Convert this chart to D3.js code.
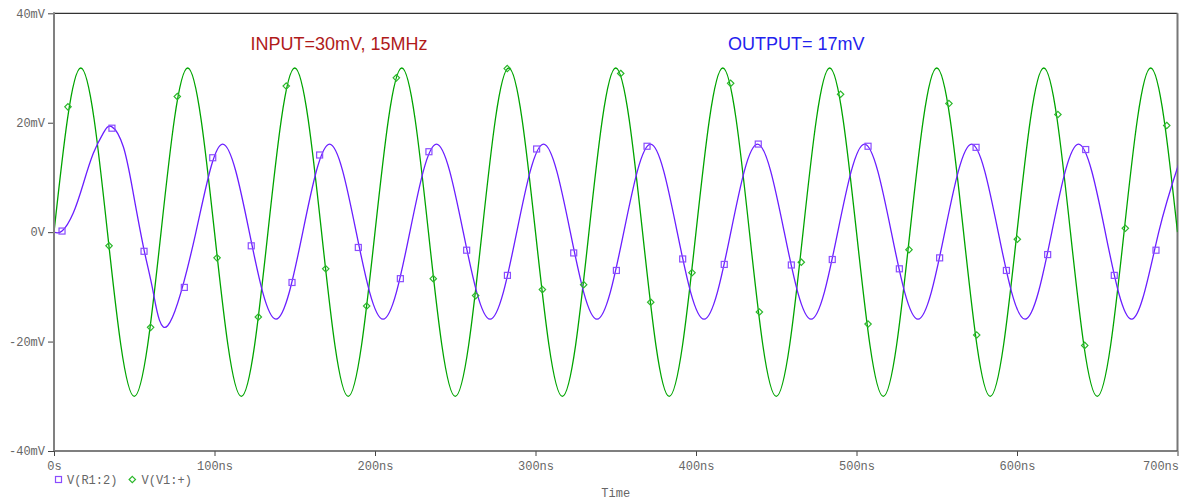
<!DOCTYPE html>
<html>
<head>
<meta charset="utf-8">
<script src="https://cdn.jsdelivr.net/npm/d3@7/dist/d3.min.js"></script>
<style>
  html, body { margin: 0; padding: 0; background: #fff; }
  svg { display: block; }
</style>
</head>
<body>
<svg id="chart" width="1184" height="502"></svg>
<script>
// ---- data (time in ns, voltage in mV) ----
const yTicks = [-40, -20, 0, 20, 40];
const xTicks = [0, 100, 200, 300, 400, 500, 600, 700];
const seriesNames = ["V(R1:2)", "V(V1:+)"];
const titleInput = "INPUT=30mV, 15MHz";
const titleOutput = "OUTPUT= 17mV";

// Input V(V1:+): peaks / zero crossings
const inputTime = [0, 16.7, 33.3, 50, 66.7, 83.3, 100, 116.7, 133.3, 150, 166.7, 183.3, 200, 216.7, 233.3, 250, 266.7, 283.3, 300, 316.7, 333.3, 350, 366.7, 383.3, 400, 416.7, 433.3, 450, 466.7, 483.3, 500, 516.7, 533.3, 550, 566.7, 583.3, 600, 616.7, 633.3, 650, 666.7, 683.3, 700];
const inputValue = [0, 30, 0, -30, 0, 30, 0, -30, 0, 30, 0, -30, 0, 30, 0, -30, 0, 30, 0, -30, 0, 30, 0, -30, 0, 30, 0, -30, 0, 30, 0, -30, 0, 30, 0, -30, 0, 30, 0, -30, 0, 30, 0];

// Output V(R1:2): start-up transient then steady oscillation
const outputTime = [0, 5, 12, 18.3, 24.5, 30.7, 35.9, 43.2, 49.4, 56.3, 61.9, 70.8, 88.2, 105, 121.7, 138.3, 155, 171.7, 188.3, 205, 221.7, 238.3, 255, 271.7, 288.3, 305, 321.7, 338.3, 355, 371.7, 388.3, 405, 421.7, 438.3, 455, 471.7, 488.3, 505, 521.7, 538.3, 555, 571.7, 588.3, 605, 621.7, 638.3, 655, 671.7, 688.3, 705];
const outputValue = [0, 0.2, 3.5, 8.9, 14.4, 18.1, 19.3, 15.6, 7.1, -3.5, -11.1, -17.1, -0.3, 16.1, 0, -15.9, 0, 16.1, 0, -15.9, 0, 16.1, 0, -15.9, 0, 16.1, 0, -15.9, 0, 16.1, 0, -15.9, 0, 16.1, 0, -15.9, 0, 16.1, 0, -15.9, 0, 16.1, 0, -15.9, 0, 16.1, 0, -15.9, 0, 16.1];

// Marker positions (square markers on output, diamonds on input)
const outMarkTime = [5, 36.1, 56.1, 81.2, 98.9, 122.9, 148.3, 165.5, 189.6, 215.8, 233.6, 257.1, 282.5, 300.7, 323.8, 350.4, 369.5, 391.7, 417.6, 438.8, 459.4, 484.9, 507.2, 526.7, 551.8, 574.5, 593.4, 619.1, 642.8, 660.6, 686.6];
const outMarkValue = [0.2, 19.0, -3.5, -10.1, 13.6, -2.5, -9.2, 14.1, -2.8, -8.5, 14.7, -3.3, -7.9, 15.2, -3.8, -7.0, 15.7, -4.9, -5.9, 16.1, -6.0, -5.0, 15.7, -6.7, -4.7, 15.5, -7.0, -4.1, 15.1, -7.9, -3.3];
const inMarkTime = [8.7, 34.3, 60.2, 76.8, 101.6, 127.3, 144.7, 169.3, 194.8, 213.3, 236.3, 262.7, 282.4, 304.3, 330, 353.1, 371.8, 397.5, 421.6, 439.5, 465.6, 490.1, 507.2, 532.7, 557.6, 574.9, 600.2, 625.5, 642.2, 667.5, 693.3];
const inMarkValue = [22.9, -2.5, -17.4, 24.8, -4.7, -15.5, 26.7, -6.7, -13.5, 28.2, -8.5, -11.6, 29.9, -10.5, -9.6, 29.0, -12.8, -7.4, 27.2, -14.6, -5.5, 25.2, -16.8, -3.2, 23.5, -18.8, -1.3, 21.5, -20.7, 0.7, 19.5];

// ---- layout ----
const svg = d3.select("#chart");
const pL = 54, pR = 1177.5, pT = 13.3, pB = 451;
const x = d3.scaleLinear().domain([0, 700]).range([pL, pR]);
const y = d3.scaleLinear().domain([-40, 40]).range([pB, pT]);

const colGreen = "#00a400";
const colPurple = "#6a1eff";
const colGreenMark = "#2bb82b";
const colPurpleMark = "#8a4cff";
const monoFont = "'Liberation Mono', 'DejaVu Sans Mono', monospace";

svg.append("defs").append("clipPath").attr("id", "clip")
  .append("rect").attr("x", pL).attr("y", pT).attr("width", pR - pL).attr("height", pB - pT);

// frame
svg.append("line").attr("x1", pL).attr("x2", pR).attr("y1", pT).attr("y2", pT)
  .attr("stroke", "#333").attr("stroke-width", 1.2);
svg.append("line").attr("x1", pR).attr("x2", pR).attr("y1", pT).attr("y2", pB)
  .attr("stroke", "#777").attr("stroke-width", 2);

// curves
const line = d3.line().x(d => x(d[0])).y(d => y(d[1])).curve(d3.curveNatural);
const inputData = inputTime.map((t, i) => [t, inputValue[i]]);
const outputData = outputTime.map((t, i) => [t, outputValue[i]]);

const plot = svg.append("g").attr("clip-path", "url(#clip)");
plot.append("path").datum(inputData).attr("d", line)
  .attr("fill", "none").attr("stroke", colGreen).attr("stroke-width", 1.3);
plot.append("path").datum(outputData).attr("d", line)
  .attr("fill", "none").attr("stroke", colPurple).attr("stroke-width", 1.3);

// markers
const sq = 6;
plot.selectAll(".sqm").data(outMarkTime.map((t, i) => [t, outMarkValue[i]])).enter()
  .append("rect")
  .attr("x", d => x(d[0]) - sq / 2).attr("y", d => y(d[1]) - sq / 2)
  .attr("width", sq).attr("height", sq)
  .attr("fill", "none").attr("stroke", colPurpleMark).attr("stroke-width", 1.2);
const dm = 3.2;
const diamond = (cx, cy) => `M${cx},${cy - dm}L${cx + dm},${cy}L${cx},${cy + dm}L${cx - dm},${cy}Z`;
plot.selectAll(".dmm").data(inMarkTime.map((t, i) => [t, inMarkValue[i]])).enter()
  .append("path")
  .attr("d", d => diamond(x(d[0]), y(d[1])))
  .attr("fill", "none").attr("stroke", colGreenMark).attr("stroke-width", 1.2);

// axes
const fmtV = v => v === 0 ? "0V" : v + "mV";
const fmtT = t => t === 0 ? "0s" : t + "ns";

const ya = svg.append("g").attr("transform", `translate(${pL},0)`)
  .call(d3.axisLeft(y).tickValues(yTicks).tickFormat(fmtV).tickSize(6).tickPadding(3));
ya.select(".domain").remove();
ya.selectAll("line").attr("stroke", "#444");
ya.selectAll("text").attr("fill", "#666").style("font-family", monoFont).style("font-size", "12px");

const xa = svg.append("g").attr("transform", `translate(0,${pB})`)
  .call(d3.axisBottom(x).tickValues(xTicks).tickFormat(fmtT).tickSize(5).tickPadding(5.5));
xa.select(".domain").remove();
xa.selectAll("line").attr("stroke", "#444");
xa.selectAll("text").attr("fill", "#666").style("font-family", monoFont).style("font-size", "12px");
xa.selectAll(".tick").filter(d => d === xTicks[xTicks.length - 1]).select("text")
  .attr("text-anchor", "end").attr("x", 1);

svg.append("line").attr("x1", pL).attr("x2", pR).attr("y1", pB).attr("y2", pB)
  .attr("stroke", "#555").attr("stroke-width", 1.5);
svg.append("line").attr("x1", pL).attr("x2", pL).attr("y1", pT - 1).attr("y2", pB)
  .attr("stroke", "#808080").attr("stroke-width", 2);

// axis title
svg.append("text").attr("x", (pL + pR) / 2).attr("y", 497).attr("text-anchor", "middle")
  .attr("fill", "#666").style("font-family", monoFont).style("font-size", "12px").text("Time");

// legend
const lg = svg.append("g");
lg.append("rect").attr("x", 55.5).attr("y", 476.5).attr("width", 6).attr("height", 6)
  .attr("fill", "none").attr("stroke", colPurpleMark).attr("stroke-width", 1.2);
lg.append("text").attr("x", 67).attr("y", 483.5).attr("fill", "#666")
  .style("font-family", monoFont).style("font-size", "12px").text(seriesNames[0]);
lg.append("path").attr("d", diamond(132.3, 479.5))
  .attr("fill", "none").attr("stroke", colGreenMark).attr("stroke-width", 1.2);
lg.append("text").attr("x", 141.5).attr("y", 483.5).attr("fill", "#666")
  .style("font-family", monoFont).style("font-size", "12px").text(seriesNames[1]);

// annotations
svg.append("text").attr("x", 250.5).attr("y", 49.5).attr("fill", "#b01a1a")
  .style("font-family", "'Liberation Sans', Arial, sans-serif").style("font-size", "18px").text(titleInput);
svg.append("text").attr("x", 728).attr("y", 49.5).attr("fill", "#2222ee")
  .style("font-family", "'Liberation Sans', Arial, sans-serif").style("font-size", "18px").text(titleOutput);
</script>
</body>
</html>
